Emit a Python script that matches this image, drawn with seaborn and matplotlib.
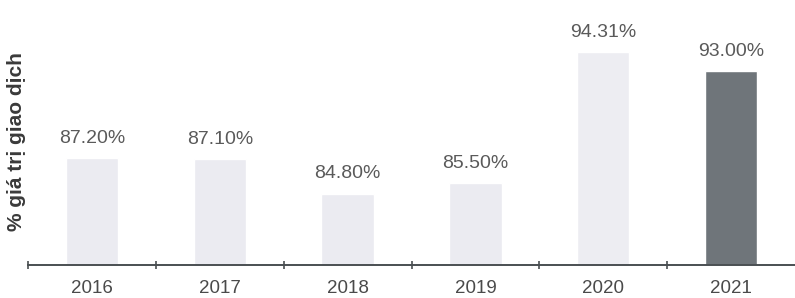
import matplotlib
matplotlib.use("Agg")
import matplotlib.pyplot as plt
import seaborn as sns
import pandas as pd
from matplotlib.ticker import FixedLocator

years = ["2016", "2017", "2018", "2019", "2020", "2021"]
values = [87.20, 87.10, 84.80, 85.50, 94.31, 93.00]
labels = ["87.20%", "87.10%", "84.80%", "85.50%", "94.31%", "93.00%"]
colors = ["#ebebf1", "#ebebf1", "#ebebf1", "#ebebf1", "#ededf2", "#6f757a"]

sns.set_theme(style="white")
plt.rcParams["font.family"] = ["Liberation Sans", "DejaVu Sans"]

df = pd.DataFrame({"year": years, "value": values})

fig = plt.figure(figsize=(7.95, 2.98), dpi=100)
ax = fig.add_axes([28 / 795, 33 / 298, 1 - 28 / 795, 265 / 298])

sns.barplot(data=df, x="year", y="value", hue="year", palette=colors,
            width=0.41, legend=False, ax=ax, saturation=1)

ax.set_ylim(80, 97.8)
ax.set_xlim(-0.5, 5.5)

for i, (v, lab) in enumerate(zip(values, labels)):
    ax.annotate(lab, (i, v), xytext=(0, 8), textcoords="offset points",
                ha="center", va="bottom", fontsize=14, color="#5a5a5a")

for s in ["top", "right", "left"]:
    ax.spines[s].set_visible(False)
ax.spines["bottom"].set_color("#4a4f52")
ax.spines["bottom"].set_linewidth(1.4)

ax.set_yticks([])
ax.xaxis.set_minor_locator(FixedLocator([-0.5, 0.5, 1.5, 2.5, 3.5, 4.5]))
ax.tick_params(axis="x", which="major", length=0, pad=11,
               labelsize=13.5, labelcolor="#4a4a4a")
ax.tick_params(axis="x", which="minor", length=6, width=1.2,
               direction="inout", color="#4a4f52", bottom=True)
ax.set_xlabel("")
ax.set_ylabel("")
fig.text(17 / 795, 1 - 142 / 298, "% giá trị giao dịch", rotation=90,
         ha="center", va="center", fontsize=15, fontweight="bold",
         color="#3a3a3a")

fig.savefig("out.png", dpi=100, facecolor="white")
